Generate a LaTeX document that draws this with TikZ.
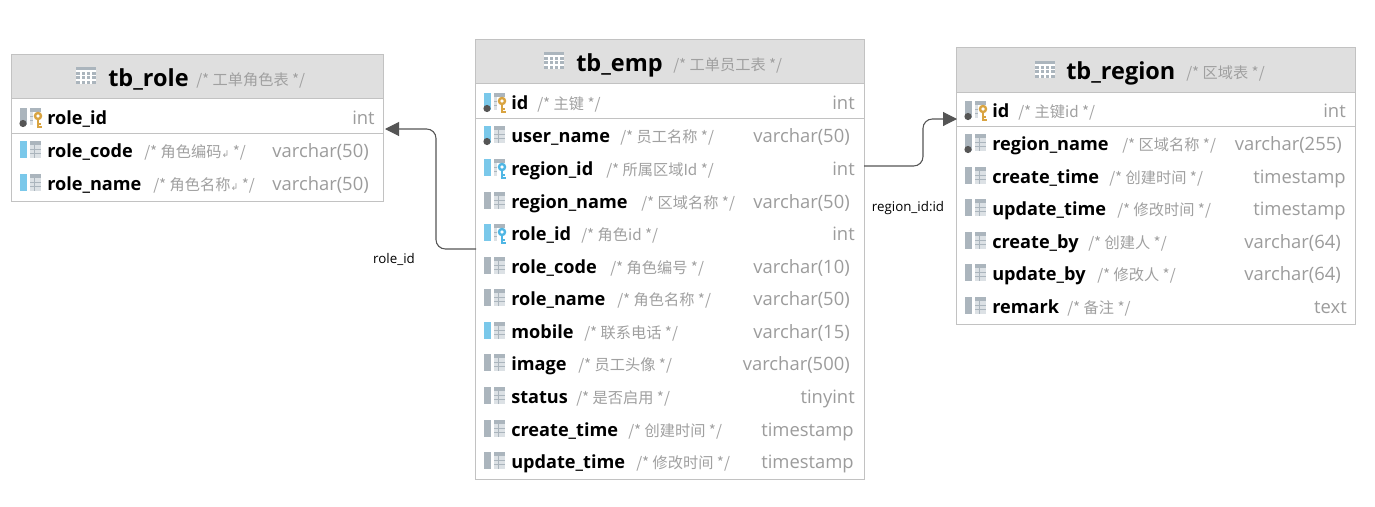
\documentclass[tikz,border=0pt]{standalone}
\usepackage{fontspec}
\setmainfont{Open Sans}
\newfontfamily\cjkfont{Noto Sans CJK SC}
\newfontfamily\arrowfont{DejaVu Sans}
\usetikzlibrary{arrows.meta}

\definecolor{BorderColor}{HTML}{C2C2C2}
\definecolor{HeadColor}{HTML}{DFDFDF}
\definecolor{NoteColor}{HTML}{A0A0A0}
\definecolor{TypeColor}{HTML}{9C9C9C}
\definecolor{LineColor}{HTML}{555555}
\definecolor{BlueBar}{HTML}{7AC8EA}
\definecolor{GrayBar}{HTML}{ABB5BD}
\definecolor{GridColor}{HTML}{DCE1E5}
\definecolor{GoldKey}{HTML}{D9A441}
\definecolor{BlueKey}{HTML}{4FB6E4}

\tikzset{
	tablebox/.style={draw=BorderColor, line width=0.75pt},
	tablehead/.style={draw=BorderColor, line width=0.75pt, fill=HeadColor},
	tablerule/.style={draw=BorderColor, line width=0.75pt},
	titletext/.style={anchor=base west, inner sep=0pt, font=\fontsize{17.6pt}{20pt}\selectfont\bfseries},
	rowname/.style={anchor=base west, inner sep=0pt, font=\fontsize{13.6pt}{16pt}\selectfont\bfseries},
	rownote/.style={anchor=base west, inner sep=0pt, text=NoteColor, font=\fontsize{11.4pt}{13pt}\cjkfont},
	rowtype/.style={anchor=base east, inner sep=0pt, text=TypeColor, font=\fontsize{13.8pt}{16pt}\selectfont},
	linklabel/.style={inner sep=0pt, font=\fontsize{10pt}{12pt}\selectfont},
	link/.style={draw=LineColor, line width=0.8pt, rounded corners=7pt, -{Triangle[length=10.5pt,width=10.5pt]}}
}

\def\nokey{none}

% icon of a table in the head: x, y of the top left corner
\newcommand{\headicon}[2]{
	\fill [GrayBar] (#1,#2) rectangle ++(20,17);
	\foreach \k in {5,10,15} \draw [white, line width=0.9pt] (#1+\k,#2+4) -- ++(0,13);
	\foreach \k in {4,8.5,13} \draw [white, line width=0.9pt] (#1,#2+\k) -- ++(20,0);
}

% icon of a column: x, y of the row, bar colour, dot colour, key colour
\newcommand{\rowicon}[5]{
	\fill [#3] (#1,#2-9) rectangle ++(7,17);
	\fill [GridColor] (#1+10,#2-9) rectangle ++(11,17);
	\fill [GrayBar] (#1+10,#2-9) rectangle ++(11,4);
	\fill [GrayBar] (#1+14,#2-5) rectangle ++(1,13);
	\foreach \k in {-1,3} \fill [GrayBar] (#1+10,#2+\k) rectangle ++(11,1);
	\path [fill=#4] (#1+3,#2+6.5) circle (3.6);
	\edef\thiskey{#5}
	\ifx\thiskey\nokey\else
		\fill [white] (#1+13,#2-5) rectangle ++(10,17);
		\path [draw=#5, line width=1.8pt] (#1+18,#2-1) circle (3);
		\path [draw=#5, line width=2.2pt] (#1+18,#2+2) -- (#1+18,#2+11);
		\path [draw=#5, line width=1.5pt] (#1+18,#2+10) -- (#1+22,#2+10) (#1+18,#2+6.5) -- (#1+21,#2+6.5);
	\fi
}

\begin{document}
\begin{tikzpicture}[x=0.75pt, y=-0.75pt]

	\useasboundingbox (0,0) rectangle (1375,507);

	% Table boxes

	\filldraw [tablebox, fill=white] (11.5,54.5) rectangle (383,201);
	\filldraw [tablehead] (11.5,54.5) rectangle (383,98);
	\draw [tablerule] (11.5,133) -- (383,133);

	\filldraw [tablebox, fill=white] (475.5,39.5) rectangle (864,479);
	\filldraw [tablehead] (475.5,39.5) rectangle (864,83);
	\draw [tablerule] (475.5,118) -- (864,118);

	\filldraw [tablebox, fill=white] (956.5,47.5) rectangle (1355.5,324);
	\filldraw [tablehead] (956.5,47.5) rectangle (1355.5,92);
	\draw [tablerule] (956.5,126) -- (1355.5,126);

	% Heads

	\headicon{76}{67}
	\node [titletext] (roletitle) at (108,86) {tb\_role};
	\node [rownote] (rolenote) at (196,85) {/* 工单角色表 */};

	\headicon{544}{52}
	\node [titletext] (emptitle) at (576,71) {tb\_emp};
	\node [rownote] (empnote) at (673,70) {/* 工单员工表 */};

	\headicon{1035}{61}
	\node [titletext] (regiontitle) at (1066,79) {tb\_region};
	\node [rownote] (regionnote) at (1186,78) {/* 区域表 */};

	% Rows of tb_role

	\foreach \y/\name/\nx/\note/\tx/\type/\bar/\dot/\key [count=\i] in {
		117/role\_id/196//375/int/GrayBar/LineColor/GoldKey,
		150/role\_code/144/{/* 角色编码{\arrowfont\scriptsize ↲} */}/369/varchar(50)/BlueBar/none/none,
		183/role\_name/153/{/* 角色名称{\arrowfont\scriptsize ↲} */}/369/varchar(50)/BlueBar/none/none%
	} {
		\rowicon{20}{\y}{\bar}{\dot}{\key}
		\node [rowname] (rolename\i) at (47,\y+7.5) {\name};
		\node [rownote] (rolenote\i) at (\nx,\y+7) {\note};
		\node [rowtype] (roletype\i) at (\tx,\y+7.5) {\type};
	}

	% Rows of tb_emp

	\foreach \y/\name/\nx/\note/\tx/\type/\bar/\dot/\key [count=\i] in {
		102/id/537/{/* 主键 */}/855/int/BlueBar/LineColor/GoldKey,
		135/user\_name/620/{/* 员工名称 */}/850/varchar(50)/BlueBar/LineColor/none,
		168/region\_id/606/{/* 所属区域Id */}/855/int/BlueBar/none/BlueKey,
		201/region\_name/641/{/* 区域名称 */}/850/varchar(50)/GrayBar/none/none,
		233/role\_id/581/{/* 角色id */}/855/int/BlueBar/none/BlueKey,
		266/role\_code/610/{/* 角色编号 */}/850/varchar(10)/GrayBar/none/none,
		298/role\_name/617/{/* 角色名称 */}/850/varchar(50)/GrayBar/none/none,
		331/mobile/584/{/* 联系电话 */}/850/varchar(15)/BlueBar/none/none,
		363/image/578/{/* 员工头像 */}/850/varchar(500)/GrayBar/none/none,
		396/status/576/{/* 是否启用 */}/855/tinyint/GrayBar/none/none,
		429/create\_time/628/{/* 创建时间 */}/854/timestamp/GrayBar/none/none,
		461/update\_time/636/{/* 修改时间 */}/854/timestamp/GrayBar/none/none%
	} {
		\rowicon{484}{\y}{\bar}{\dot}{\key}
		\node [rowname] (empname\i) at (511,\y+7.5) {\name};
		\node [rownote] (empnote\i) at (\nx,\y+7) {\note};
		\node [rowtype] (emptype\i) at (\tx,\y+7.5) {\type};
	}

	% Rows of tb_region

	\foreach \y/\name/\nx/\note/\tx/\type/\bar/\dot/\key [count=\i] in {
		110/id/1018/{/* 主键id */}/1346/int/GrayBar/LineColor/GoldKey,
		143/region\_name/1122/{/* 区域名称 */}/1342/varchar(255)/GrayBar/LineColor/none,
		176/create\_time/1109/{/* 创建时间 */}/1346/timestamp/GrayBar/none/none,
		208/update\_time/1117/{/* 修改时间 */}/1346/timestamp/GrayBar/none/none,
		241/create\_by/1088/{/* 创建人 */}/1341/varchar(64)/GrayBar/none/none,
		273/update\_by/1097/{/* 修改人 */}/1341/varchar(64)/GrayBar/none/none,
		306/remark/1067/{/* 备注 */}/1347/text/GrayBar/none/none%
	} {
		\rowicon{965}{\y}{\bar}{\dot}{\key}
		\node [rowname] (regionname\i) at (992,\y+7.5) {\name};
		\node [rownote] (regionnote\i) at (\nx,\y+7) {\note};
		\node [rowtype] (regiontype\i) at (\tx,\y+7.5) {\type};
	}

	% Links

	\coordinate (rolefrom) at (476,249);
	\coordinate (roleto) at (385,129);
	\coordinate (regionfrom) at (864,166);
	\coordinate (regionto) at (957,119);

	\draw [link] (rolefrom) -- (436,249) -- (436,129) -- (roleto);
	\draw [link] (regionfrom) -- (923,166) -- (923,119) -- (regionto);

	\node [linklabel] (rolelabel) at (394,259) {role\_id};
	\node [linklabel] (regionlabel) at (908,208.5) {region\_id:id};

\end{tikzpicture}
\end{document}
